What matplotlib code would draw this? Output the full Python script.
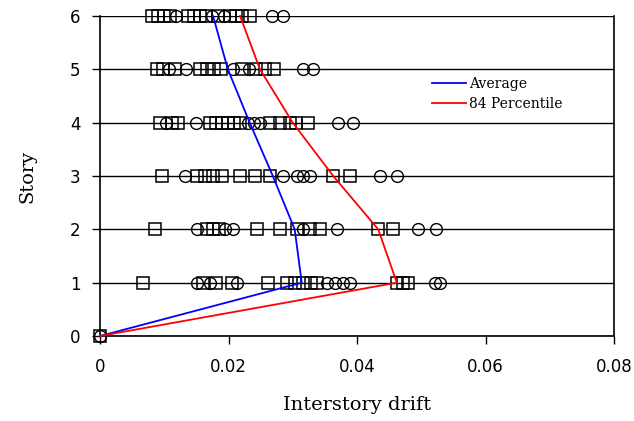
import matplotlib
matplotlib.use("Agg")
import matplotlib.pyplot as plt

stories = [0, 1, 2, 3, 4, 5, 6]
average = [0, 0.0314, 0.0303, 0.0269, 0.0233, 0.0199, 0.0176]
p84 = [0, 0.0462, 0.0433, 0.0363, 0.0300, 0.0249, 0.0218]

squares = {
    0: [0.0],
    1: [0.0067, 0.0160, 0.0181, 0.0205, 0.0261, 0.0291, 0.0304, 0.0316, 0.0328, 0.0338, 0.0462, 0.0472, 0.0480],
    2: [0.0086, 0.0167, 0.0176, 0.0185, 0.0244, 0.0280, 0.0307, 0.0327, 0.0342, 0.0433, 0.0456],
    3: [0.0096, 0.0151, 0.0163, 0.0176, 0.0190, 0.0218, 0.0241, 0.0265, 0.0363, 0.0389],
    4: [0.0093, 0.0112, 0.0121, 0.0171, 0.0181, 0.0190, 0.0199, 0.0209, 0.0218, 0.0265, 0.0280, 0.0296, 0.0305, 0.0324],
    5: [0.0089, 0.0098, 0.0117, 0.0156, 0.0167, 0.0177, 0.0188, 0.0221, 0.0243, 0.0257, 0.0271],
    6: [0.0081, 0.0090, 0.0100, 0.0109, 0.0137, 0.0146, 0.0156, 0.0165, 0.0184, 0.0202, 0.0212, 0.0221, 0.0233],
}
circles = {
    0: [0.0],
    1: [0.0151, 0.0171, 0.0213, 0.0353, 0.0366, 0.0378, 0.0389, 0.0521, 0.0529],
    2: [0.0151, 0.0195, 0.0207, 0.0316, 0.0369, 0.0495, 0.0523],
    3: [0.0132, 0.0285, 0.0307, 0.0316, 0.0327, 0.0436, 0.0462],
    4: [0.0103, 0.0149, 0.0230, 0.0240, 0.0249, 0.0370, 0.0394],
    5: [0.0107, 0.0134, 0.0207, 0.0232, 0.0316, 0.0332],
    6: [0.0118, 0.0174, 0.0193, 0.0268, 0.0285],
}

xticks = [0, 0.02, 0.04, 0.06, 0.08]
xticklabels = ["0", "0.02", "0.04", "0.06", "0.08"]

fig = plt.figure(figsize=(6.34, 4.21), dpi=100)
ax = fig.add_axes([100/634, 1 - 336/421, (614 - 100)/634, (336 - 16)/421])

for s in stories:
    ax.axhline(s, color="black", lw=1.0, zorder=1)

for s in stories:
    ax.plot(squares[s], [s] * len(squares[s]), linestyle="none", marker="s",
            markersize=8, markerfacecolor="none", markeredgecolor="black",
            markeredgewidth=1.1, clip_on=False, zorder=3)
    ax.plot(circles[s], [s] * len(circles[s]), linestyle="none", marker="o",
            markersize=8.5, markerfacecolor="none", markeredgecolor="black",
            markeredgewidth=1.0, clip_on=False, zorder=3)

ax.plot(average, stories, color="blue", lw=1.3, label="Average", zorder=4, clip_on=False)
ax.plot(p84, stories, color="red", lw=1.3, label="84 Percentile", zorder=4, clip_on=False)

ax.set_xlim(0, 0.08)
ax.set_ylim(0, 6)
ax.set_xticks(xticks)
ax.set_xticklabels(xticklabels)
ax.set_yticks(stories)
ax.tick_params(axis="both", direction="out", length=6, width=1, labelsize=12)
for lab in ax.get_xticklabels() + ax.get_yticklabels():
    lab.set_family("DejaVu Sans")
ax.tick_params(axis="x", pad=10)
ax.tick_params(axis="y", pad=8)

ax.spines["top"].set_visible(False)
for sp in ["left", "right", "bottom"]:
    ax.spines[sp].set_linewidth(1.2)

ax.set_xlabel("Interstory drift", family="DejaVu Serif", fontsize=14, labelpad=14)
ax.set_ylabel("Story", family="DejaVu Serif", fontsize=14, labelpad=24)

leg = ax.legend(loc="center left", bbox_to_anchor=(0.621, 0.756), frameon=False,
                prop={"family": "DejaVu Serif", "size": 10}, handlelength=2.5,
                handletextpad=0.2, labelspacing=0.45)

fig.savefig("out.png", dpi=100)
